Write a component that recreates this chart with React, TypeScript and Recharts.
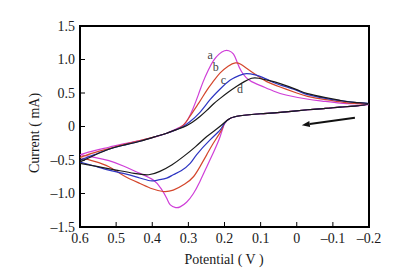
import {
  LineChart,
  Line,
  XAxis,
  YAxis,
  Label,
  ReferenceArea,
  ReferenceDot,
  ReferenceLine
} from 'recharts';

// potential (V), current (mA) pairs, each loop read clockwise from the 0.6 V end
const curveA = [
  [0.6, -0.42], [0.56, -0.36], [0.52, -0.31], [0.48, -0.26], [0.434, -0.21], [0.39, -0.15],
  [0.36, -0.1], [0.335, -0.04], [0.314, 0.02], [0.3, 0.12], [0.287, 0.27], [0.272, 0.48],
  [0.259, 0.67], [0.245, 0.84], [0.231, 0.98], [0.215, 1.08], [0.2, 1.13], [0.188, 1.13],
  [0.175, 1.08], [0.165, 0.96], [0.153, 0.82], [0.14, 0.73], [0.125, 0.67], [0.1, 0.61],
  [0.065, 0.53], [0.03, 0.47], [-0.028, 0.41], [-0.07, 0.38], [-0.12, 0.35], [-0.16, 0.34],
  [-0.2, 0.33], [-0.16, 0.305], [-0.12, 0.29], [-0.08, 0.27], [-0.03, 0.25], [0.046, 0.21],
  [0.1, 0.19], [0.157, 0.16], [0.185, 0.12], [0.2, 0.04], [0.212, -0.15], [0.23, -0.38],
  [0.249, -0.6], [0.268, -0.82], [0.286, -1.0], [0.305, -1.13], [0.323, -1.2], [0.335, -1.21],
  [0.35, -1.17], [0.36, -1.07], [0.375, -0.93], [0.397, -0.8], [0.434, -0.7], [0.48, -0.59],
  [0.52, -0.51], [0.56, -0.46], [0.6, -0.42]
];

const curveB = [
  [0.6, -0.46], [0.56, -0.39], [0.52, -0.33], [0.48, -0.27], [0.434, -0.21], [0.39, -0.15],
  [0.36, -0.1], [0.335, -0.05], [0.314, 0.02], [0.296, 0.15], [0.27, 0.36], [0.249, 0.54],
  [0.23, 0.68], [0.212, 0.8], [0.19, 0.9], [0.17, 0.95], [0.155, 0.93], [0.139, 0.87],
  [0.11, 0.76], [0.083, 0.67], [0.046, 0.59], [0.0, 0.5], [-0.03, 0.45], [-0.08, 0.4],
  [-0.12, 0.37], [-0.16, 0.345], [-0.2, 0.335], [-0.16, 0.305], [-0.12, 0.29], [-0.08, 0.27],
  [-0.03, 0.25], [0.046, 0.21], [0.1, 0.19], [0.157, 0.16], [0.185, 0.12], [0.2, 0.05],
  [0.208, -0.05], [0.231, -0.25], [0.249, -0.42], [0.268, -0.6], [0.286, -0.75], [0.31, -0.86],
  [0.342, -0.95], [0.37, -0.97], [0.4, -0.93], [0.434, -0.85], [0.48, -0.73], [0.52, -0.6],
  [0.56, -0.52], [0.6, -0.46]
];

const curveC = [
  [0.6, -0.5], [0.56, -0.42], [0.52, -0.34], [0.48, -0.28], [0.434, -0.22], [0.39, -0.15],
  [0.36, -0.1], [0.335, -0.05], [0.314, 0.0], [0.296, 0.07], [0.27, 0.2], [0.24, 0.4],
  [0.212, 0.56], [0.185, 0.69], [0.16, 0.76], [0.139, 0.79], [0.115, 0.77], [0.093, 0.73],
  [0.066, 0.66], [0.046, 0.62], [0.0, 0.54], [-0.027, 0.48], [-0.08, 0.42], [-0.12, 0.385],
  [-0.16, 0.36], [-0.2, 0.34], [-0.16, 0.305], [-0.12, 0.29], [-0.08, 0.27], [-0.03, 0.25],
  [0.046, 0.21], [0.1, 0.19], [0.157, 0.16], [0.185, 0.12], [0.2, 0.05], [0.212, -0.05],
  [0.24, -0.2], [0.277, -0.42], [0.295, -0.55], [0.32, -0.66], [0.342, -0.72], [0.36, -0.77],
  [0.385, -0.8], [0.406, -0.81], [0.44, -0.76], [0.48, -0.7], [0.52, -0.65], [0.56, -0.59],
  [0.6, -0.53]
];

const curveD = [
  [0.6, -0.53], [0.56, -0.43], [0.52, -0.34], [0.48, -0.28], [0.434, -0.22], [0.39, -0.15],
  [0.36, -0.1], [0.335, -0.05], [0.314, -0.01], [0.29, 0.06], [0.268, 0.15], [0.249, 0.24],
  [0.23, 0.34], [0.212, 0.42], [0.19, 0.51], [0.166, 0.6], [0.145, 0.67], [0.125, 0.72],
  [0.105, 0.72], [0.08, 0.69], [0.046, 0.64], [0.0, 0.55], [-0.03, 0.49], [-0.08, 0.43],
  [-0.12, 0.39], [-0.16, 0.36], [-0.2, 0.34], [-0.16, 0.305], [-0.12, 0.29], [-0.08, 0.27],
  [-0.03, 0.25], [0.046, 0.21], [0.1, 0.19], [0.157, 0.16], [0.185, 0.12], [0.2, 0.06],
  [0.22, -0.03], [0.249, -0.15], [0.28, -0.3], [0.314, -0.45], [0.345, -0.57], [0.379, -0.67],
  [0.41, -0.72], [0.45, -0.7], [0.5, -0.65], [0.55, -0.6], [0.6, -0.55]
];

const xTicks = [0.6, 0.5, 0.4, 0.3, 0.2, 0.1, 0, -0.1, -0.2];
const yTicks = [-1.5, -1.0, -0.5, 0, 0.5, 1.0, 1.5];

// curve tags written next to the anodic peaks
const tags = [
  { name: 'a', x: 0.24, y: 1.07 },
  { name: 'b', x: 0.224, y: 0.89 },
  { name: 'c', x: 0.203, y: 0.7 },
  { name: 'd', x: 0.157, y: 0.57 }
];

// scan direction arrow
const arrow = [
  { x: -0.161, y: 0.13 },
  { x: -0.014, y: 0.02 }
];

const series = [
  { key: 'a', points: curveA, color: '#cf3fd8' },
  { key: 'b', points: curveB, color: '#d4462c' },
  { key: 'c', points: curveC, color: '#2d35c2' },
  { key: 'd', points: curveD, color: '#1a1a1a' }
];

const serif = '"Liberation Serif", "DejaVu Serif", serif';

const fmt = (v: number) => {
  if (v === 0) return '0';
  const s = Math.abs(v).toFixed(1);
  return v < 0 ? '\u2013' + s : s;
};

const ArrowShape = (props: any) => {
  const { x1, y1, x2, y2 } = props;
  const ang = Math.atan2(y2 - y1, x2 - x1);
  const len = 8;
  const w = 3;
  const bx = x2 - len * Math.cos(ang);
  const by = y2 - len * Math.sin(ang);
  const px = -Math.sin(ang) * w;
  const py = Math.cos(ang) * w;
  return (
    <g>
      <line x1={x1} y1={y1} x2={bx} y2={by} stroke='#111' strokeWidth={2} />
      <polygon points={`${x2},${y2} ${bx + px},${by + py} ${bx - px},${by - py}`} fill='#111' />
    </g>
  );
};

const App = () => (
  <div style={{ position: 'absolute', left: 0, top: 0 }}>
    <LineChart
      width={402}
      height={279}
      margin={{ top: 26, right: 33, bottom: 22, left: 40 }}
    >
      <XAxis
        type='number'
        dataKey='x'
        domain={[-0.2, 0.6]}
        reversed
        ticks={xTicks}
        tickFormatter={fmt}
        allowDataOverflow
        axisLine={false}
        tickSize={-5}
        tickMargin={11}
        height={30}
        tickLine={{ stroke: '#000' }}
        tick={{ fontSize: 14, fill: '#1a1a1a', fontFamily: serif }}
      >
        <Label
          content={() => (
            <text x={224} y={264} textAnchor='middle' fontSize={14} fill='#1a1a1a' fontFamily={serif}>
              Potential ( V )
            </text>
          )}
        />
      </XAxis>
      <YAxis
        type='number'
        dataKey='y'
        domain={[-1.5, 1.5]}
        ticks={yTicks}
        tickFormatter={fmt}
        allowDataOverflow
        axisLine={false}
        tickSize={-5}
        tickMargin={10}
        width={40}
        tickLine={{ stroke: '#000' }}
        tick={{ fontSize: 14, fill: '#1a1a1a', fontFamily: serif }}
      >
        <Label
          content={() => (
            <text
              transform='translate(39,133) rotate(-90)'
              textAnchor='middle'
              fontSize={14}
              fill='#1a1a1a'
              fontFamily={serif}
            >
              Current ( mA)
            </text>
          )}
        />
      </YAxis>
      {series.map((s) => (
        <Line
          key={s.key}
          data={s.points.map(([x, y]) => ({ x, y }))}
          dataKey='y'
          type='natural'
          stroke={s.color}
          strokeWidth={1.2}
          dot={false}
          activeDot={false}
          isAnimationActive={false}
        />
      ))}
      {tags.map((t) => (
        <ReferenceDot
          key={t.name}
          x={t.x}
          y={t.y}
          r={0}
          fill='none'
          stroke='none'
          label={{ value: t.name, position: 'center', fontSize: 12, fill: '#444', fontFamily: serif }}
        />
      ))}
      <ReferenceLine segment={arrow} shape={ArrowShape} />
      <ReferenceArea x1={0.6} x2={-0.2} y1={-1.5} y2={1.5} fill='none' stroke='#000' strokeWidth={2} fillOpacity={0} />
    </LineChart>
  </div>
);

export default App;
